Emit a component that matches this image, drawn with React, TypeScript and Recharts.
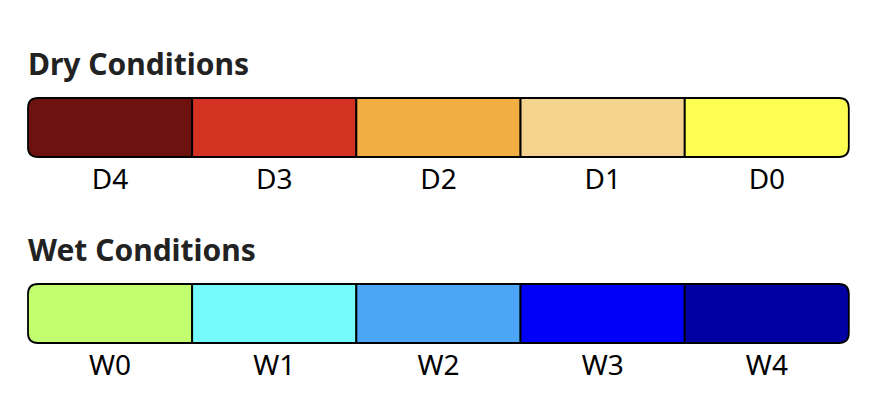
import { BarChart, Bar, XAxis, YAxis, Cell } from 'recharts';

const dryLabels = ['D4', 'D3', 'D2', 'D1', 'D0'];
const dryColors = ['#6e1210', '#d43222', '#f3ae43', '#f4d38e', '#fefe52'];
const wetLabels = ['W0', 'W1', 'W2', 'W3', 'W4'];
const wetColors = ['#c1fd6e', '#76fbfd', '#4ba6f8', '#0000f6', '#0000a3'];
const segmentValues = [1, 1, 1, 1, 1];

const FONT = '"Noto Sans", sans-serif';
const RADIUS = 10;

const roundedShape = (count: number) => (props: any) => {
  const { x, y, width, height, fill, index } = props;
  const r = RADIUS;
  let d: string;
  if (index === 0) {
    d = `M${x + width},${y} L${x + r},${y} Q${x},${y} ${x},${y + r} L${x},${y + height - r} Q${x},${y + height} ${x + r},${y + height} L${x + width},${y + height} Z`;
  } else if (index === count - 1) {
    d = `M${x},${y} L${x + width - r},${y} Q${x + width},${y} ${x + width},${y + r} L${x + width},${y + height - r} Q${x + width},${y + height} ${x + width - r},${y + height} L${x},${y + height} Z`;
  } else {
    d = `M${x},${y} L${x + width},${y} L${x + width},${y + height} L${x},${y + height} Z`;
  }
  return <path d={d} fill={fill} stroke="#000" strokeWidth={1.8} />;
};

const ScaleBar = ({ title, labels, colors, top }: { title: string; labels: string[]; colors: string[]; top: number }) => {
  const data = labels.map((label, i) => ({ label, value: segmentValues[i] }));
  return (
    <div style={{ position: 'absolute', left: 0, top, width: 882 }}>
      <div
        style={{
          position: 'absolute',
          left: 28,
          top: -4,
          fontFamily: FONT,
          fontWeight: 700,
          fontSize: 30,
          color: '#222',
          lineHeight: '40px',
        }}
      >
        {title}
      </div>
      <div style={{ position: 'absolute', left: 0, top: 42 }}>
        <BarChart
          width={882}
          height={130}
          data={data}
          margin={{ top: 8, right: 33, left: 28, bottom: 0 }}
          barCategoryGap={0}
        >
          <XAxis
            dataKey="label"
            axisLine={false}
            tickLine={false}
            height={63}
            interval={0}
            tick={{ fontFamily: FONT, fontSize: 28, fill: '#000' }}
            tickMargin={6}
          />
          <YAxis hide domain={[0, 1]} />
          <Bar dataKey="value" isAnimationActive={false} shape={roundedShape(labels.length)}>
            {colors.map((c, i) => (
              <Cell key={i} fill={c} />
            ))}
          </Bar>
        </BarChart>
      </div>
    </div>
  );
}

export default function App() {
  return (
    <div style={{ position: 'fixed', left: 0, top: 0, width: 882, height: 406, background: '#fff' }}>
      <ScaleBar title="Dry Conditions" labels={dryLabels} colors={dryColors} top={48} />
      <ScaleBar title="Wet Conditions" labels={wetLabels} colors={wetColors} top={234} />
    </div>
  );
}
